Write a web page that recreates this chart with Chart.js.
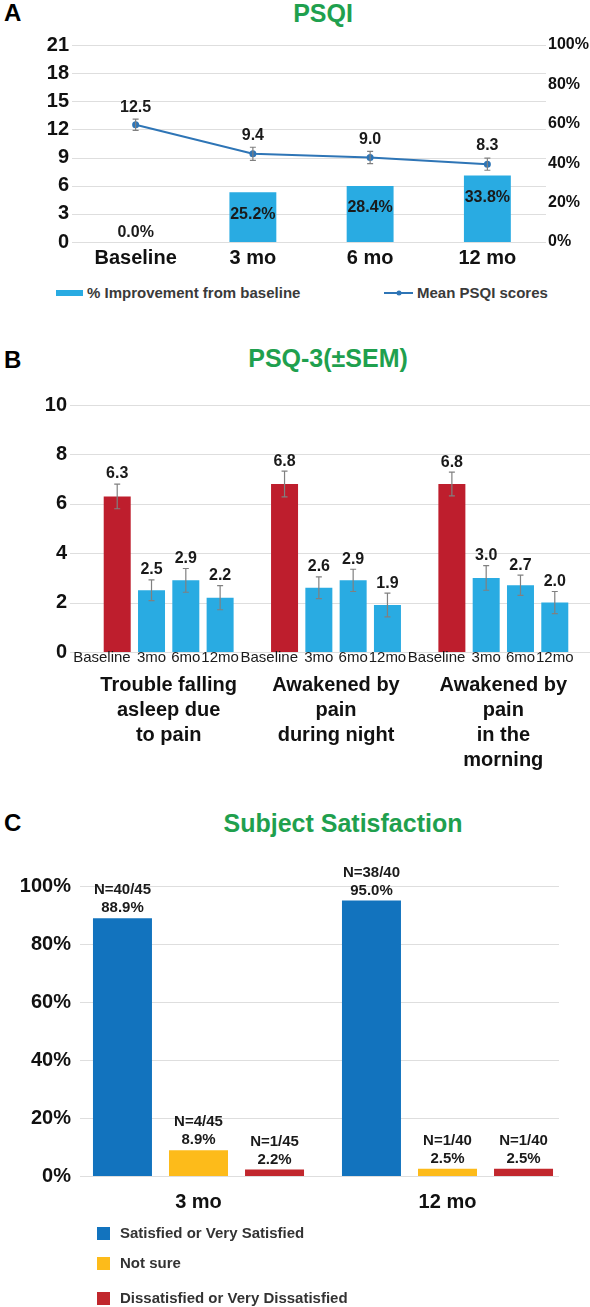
<!DOCTYPE html>
<html>
<head>
<meta charset="utf-8">
<script src="https://cdn.jsdelivr.net/npm/chart.js@4.4.1/dist/chart.umd.min.js"></script>
<style>
  body { margin: 0; background: #fff; font-family: 'Liberation Sans', Arial, sans-serif; }
  #page { position: relative; width: 590px; height: 1307px; overflow: hidden; }
  .letter { position: absolute; left: 4px; font-size: 24px; font-weight: bold; line-height: 26px; color: #000; }
  .title { position: absolute; transform: translateX(-50%); font-size: 25px; font-weight: bold; line-height: 26px; color: #1fa04e; white-space: nowrap; }
  canvas { position: absolute; left: 0; }
  .leg { position: absolute; display: flex; align-items: center; gap: 4px; font-size: 15px; font-weight: bold; color: #3a3a3a; line-height: 18px; white-space: nowrap; }
  .sw { display: inline-block; }
</style>
</head>
<body>
<div id="page">
  <div class="letter" style="top:0">A</div>
  <div class="title" style="left:323px;top:0">PSQI</div>
  <canvas id="psqi" width="590" height="255" style="top:25px"></canvas>
  <div class="leg" style="left:56px;top:284px"><span class="sw" style="width:27px;height:6px;background:#29abe2"></span>% Improvement from baseline</div>
  <div class="leg" style="left:384px;top:284px"><svg width="29" height="8"><line x1="0" y1="4" x2="29" y2="4" stroke="#2e75b6" stroke-width="2"/><circle cx="15" cy="4" r="2.5" fill="#2e75b6"/></svg>Mean PSQI scores</div>

  <div class="letter" style="top:347px">B</div>
  <div class="title" style="left:328px;top:345px">PSQ-3(±SEM)</div>
  <canvas id="psq3" width="590" height="415" style="top:375px"></canvas>

  <div class="letter" style="top:810px">C</div>
  <div class="title" style="left:343px;top:810px">Subject Satisfaction</div>
  <canvas id="sat" width="590" height="365" style="top:860px"></canvas>
  <div class="leg" style="left:97px;top:1224px;color:#333;gap:10px"><span class="sw" style="width:13px;height:13px;background:#1273be"></span>Satisfied or Very Satisfied</div>
  <div class="leg" style="left:97px;top:1254px;color:#333;gap:10px"><span class="sw" style="width:13px;height:13px;background:#fdbb1a"></span>Not sure</div>
  <div class="leg" style="left:97px;top:1289px;color:#333;gap:10px"><span class="sw" style="width:13px;height:13px;background:#c1272d"></span>Dissatisfied or Very Dissatisfied</div>
</div>
<script>
// ---------- data ----------
const psqiLabels = ["Baseline", "3 mo", "6 mo", "12 mo"];
const psqiScores = [12.5, 9.4, 9.0, 8.3];
const psqiSem = [0.6, 0.7, 0.65, 0.65];
const psqiImprovement = [0.0, 25.2, 28.4, 33.8];

const psqGroups = [
  ["Trouble falling", "asleep due", "to pain"],
  ["Awakened by", "pain", "during night"],
  ["Awakened by", "pain", "in the", "morning"],
];
const psqTimepoints = ["Baseline", "3mo", "6mo", "12mo"];
const psqBaseline = [6.3, 6.8, 6.8];
const psq3mo = [2.5, 2.6, 3.0];
const psq6mo = [2.9, 2.9, 2.7];
const psq12mo = [2.2, 1.9, 2.0];
const psqBaselineSem = [0.5, 0.52, 0.48];
const psq3moSem = [0.42, 0.44, 0.5];
const psq6moSem = [0.48, 0.45, 0.41];
const psq12moSem = [0.49, 0.48, 0.45];

const satLabels = ["3 mo", "12 mo"];
const satSatisfied = [88.9, 95.0];
const satNotSure = [8.9, 2.5];
const satDissatisfied = [2.2, 2.5];
const satSatisfiedN = ["N=40/45", "N=38/40"];
const satNotSureN = ["N=4/45", "N=1/40"];
const satDissatisfiedN = ["N=1/45", "N=1/40"];

const FONT = "'Liberation Sans', Arial, sans-serif";
Chart.defaults.font.family = FONT;
Chart.defaults.color = "#111";
Chart.defaults.animation = false;

/*-----plugins-----*/
// horizontal grid lines that run wider than the bars
const wideGrid = {
  id: "wideGrid",
  beforeDatasetsDraw(chart, args, opts) {
    const scale = chart.scales.y;
    const ctx = chart.ctx;
    ctx.save();
    ctx.strokeStyle = "#dedede";
    ctx.lineWidth = 1;
    scale.ticks.forEach((t) => {
      const y = Math.round(scale.getPixelForValue(t.value)) + 0.5;
      ctx.beginPath();
      ctx.moveTo(opts.from, y);
      ctx.lineTo(opts.to, y);
      ctx.stroke();
    });
    ctx.restore();
  },
};

const errorBars = {
  id: "errorBars",
  afterDatasetsDraw(chart) {
    const ctx = chart.ctx;
    ctx.save();
    ctx.strokeStyle = "#808080";
    ctx.lineWidth = 1.2;
    chart.data.datasets.forEach((ds, i) => {
      if (!ds.sem) return;
      const meta = chart.getDatasetMeta(i);
      const scale = chart.scales[meta.yAxisID];
      meta.data.forEach((el, j) => {
        const hi = scale.getPixelForValue(ds.data[j] + ds.sem[j]);
        const lo = scale.getPixelForValue(ds.data[j] - ds.sem[j]);
        ctx.beginPath();
        ctx.moveTo(el.x, hi);
        ctx.lineTo(el.x, lo);
        ctx.moveTo(el.x - 3, hi);
        ctx.lineTo(el.x + 3, hi);
        ctx.moveTo(el.x - 3, lo);
        ctx.lineTo(el.x + 3, lo);
        ctx.stroke();
      });
    });
    ctx.restore();
  },
};

const psqiTags = {
  id: "psqiTags",
  afterDatasetsDraw(chart) {
    const ctx = chart.ctx;
    ctx.save();
    ctx.fillStyle = "#1a1a1a";
    ctx.textAlign = "center";
    ctx.textBaseline = "middle";
    ctx.font = "bold 16px " + FONT;
    chart.getDatasetMeta(1).data.forEach((el, j) => {
      const y = el.base - el.y > 30 ? el.y + 22 : el.y - 9;
      ctx.fillText(psqiImprovement[j].toFixed(1) + "%", el.x, y);
    });
    const sy = chart.scales.y;
    chart.getDatasetMeta(0).data.forEach((pt, j) => {
      const top = sy.getPixelForValue(psqiScores[j] + psqiSem[j]);
      ctx.fillText(psqiScores[j].toFixed(1), pt.x, top - 12);
    });
    ctx.restore();
  },
};

const psqTags = {
  id: "psqTags",
  afterDatasetsDraw(chart) {
    const ctx = chart.ctx;
    const sy = chart.scales.y;
    ctx.save();
    ctx.fillStyle = "#1a1a1a";
    ctx.textBaseline = "middle";
    chart.data.datasets.forEach((ds, i) => {
      const meta = chart.getDatasetMeta(i);
      meta.data.forEach((el, j) => {
        const top = sy.getPixelForValue(ds.data[j] + ds.sem[j]);
        ctx.font = "bold 16px " + FONT;
        ctx.textAlign = "center";
        ctx.fillText(ds.data[j].toFixed(1), el.x, top - 10);
        // time point under each bar
        ctx.font = "15px " + FONT;
        if (i === 0) {
          ctx.textAlign = "right";
          ctx.fillText(ds.label, el.x + el.width / 2, chart.chartArea.bottom + 6);
        } else {
          ctx.fillText(ds.label, el.x, chart.chartArea.bottom + 6);
        }
      });
    });
    ctx.restore();
  },
};

const satTags = {
  id: "satTags",
  afterDatasetsDraw(chart) {
    const ctx = chart.ctx;
    ctx.save();
    ctx.fillStyle = "#1a1a1a";
    ctx.textAlign = "center";
    ctx.textBaseline = "middle";
    ctx.font = "bold 15px " + FONT;
    chart.data.datasets.forEach((ds, i) => {
      chart.getDatasetMeta(i).data.forEach((el, j) => {
        ctx.fillText(ds.counts[j], el.x, el.y - 28);
        ctx.fillText(ds.data[j].toFixed(1) + "%", el.x, el.y - 10);
      });
    });
    ctx.restore();
  },
};

function fixWidth(w) {
  return (scale) => { scale.width = w; };
}
function fixHeight(h) {
  return (scale) => { scale.height = h; };
}
const noGrid = { display: false, drawTicks: false };

/*-----A: PSQI-----*/
new Chart(document.getElementById("psqi"), {
  type: "bar",
  data: {
    labels: psqiLabels,
    datasets: [
      {
        type: "line",
        label: "Mean PSQI scores",
        data: psqiScores,
        sem: psqiSem,
        yAxisID: "y",
        borderColor: "#2e75b6",
        backgroundColor: "#2e75b6",
        borderWidth: 2,
        pointRadius: 2.5,
        order: 0,
      },
      {
        label: "% Improvement from baseline",
        data: psqiImprovement,
        yAxisID: "y1",
        backgroundColor: "#29abe2",
        categoryPercentage: 1,
        barPercentage: 0.4,
        order: 1,
      },
    ],
  },
  options: {
    responsive: false,
    layout: { padding: { top: 13, right: 0, bottom: 0, left: 0 } },
    plugins: {
      legend: { display: false },
      tooltip: { enabled: false },
      wideGrid: { from: 72, to: 546 },
    },
    scales: {
      x: {
        grid: noGrid,
        border: { display: false },
        ticks: { font: { size: 20, weight: "bold" }, padding: 4, maxRotation: 0 },
        afterFit: fixHeight(38),
      },
      y: {
        position: "left",
        min: 0,
        max: 21,
        grid: noGrid,
        border: { display: false },
        ticks: { stepSize: 3, font: { size: 20, weight: "bold" }, padding: 8 },
        afterFit: fixWidth(77),
      },
      y1: {
        position: "right",
        min: 0,
        max: 100,
        grid: noGrid,
        border: { display: false },
        ticks: { stepSize: 20, font: { size: 16, weight: "bold" }, padding: 2, callback: (v) => v + "%" },
        afterFit: fixWidth(44),
      },
    },
  },
  plugins: [wideGrid, errorBars, psqiTags],
});

/*-----B: PSQ-3-----*/
const psqColors = ["#be1e2d", "#29abe2", "#29abe2", "#29abe2"];
const psqValues = [psqBaseline, psq3mo, psq6mo, psq12mo];
const psqSems = [psqBaselineSem, psq3moSem, psq6moSem, psq12moSem];

new Chart(document.getElementById("psq3"), {
  type: "bar",
  data: {
    labels: psqGroups,
    datasets: psqTimepoints.map((tp, i) => ({
      label: tp,
      data: psqValues[i],
      sem: psqSems[i],
      backgroundColor: psqColors[i],
      categoryPercentage: 0.82,
      barPercentage: 0.787,
    })),
  },
  options: {
    responsive: false,
    layout: { padding: { top: 17, right: 3, bottom: 0, left: 0 } },
    plugins: {
      legend: { display: false },
      tooltip: { enabled: false },
      wideGrid: { from: 70, to: 590 },
    },
    scales: {
      x: {
        grid: noGrid,
        border: { display: false },
        ticks: {
          font: { size: 20, weight: "bold", lineHeight: 1.25 },
          padding: 21,
          maxRotation: 0,
          autoSkip: false,
        },
        afterFit: fixHeight(138),
      },
      y: {
        min: 0,
        max: 10,
        grid: noGrid,
        border: { display: false },
        ticks: { stepSize: 2, font: { size: 20, weight: "bold" }, padding: 18 },
        afterFit: fixWidth(85),
      },
    },
  },
  plugins: [wideGrid, errorBars, psqTags],
});

/*-----C: Subject satisfaction-----*/
new Chart(document.getElementById("sat"), {
  type: "bar",
  data: {
    labels: satLabels,
    datasets: [
      { label: "Satisfied or Very Satisfied", data: satSatisfied, counts: satSatisfiedN, backgroundColor: "#1273be" },
      { label: "Not sure", data: satNotSure, counts: satNotSureN, backgroundColor: "#fdbb1a" },
      { label: "Dissatisfied or Very Dissatisfied", data: satDissatisfied, counts: satDissatisfiedN, backgroundColor: "#c1272d" },
    ],
  },
  options: {
    responsive: false,
    datasets: { bar: { categoryPercentage: 0.916, barPercentage: 0.776 } },
    layout: { padding: { top: 26, right: 18, bottom: 0, left: 0 } },
    plugins: {
      legend: { display: false },
      tooltip: { enabled: false },
      wideGrid: { from: 80, to: 559 },
    },
    scales: {
      x: {
        grid: noGrid,
        border: { display: false },
        ticks: { font: { size: 20, weight: "bold" }, padding: 14, maxRotation: 0 },
        afterFit: fixHeight(49),
      },
      y: {
        min: 0,
        max: 100,
        grid: noGrid,
        border: { display: false },
        ticks: { stepSize: 20, font: { size: 20, weight: "bold" }, padding: 3, callback: (v) => v + "%" },
        afterFit: fixWidth(74),
      },
    },
  },
  plugins: [wideGrid, satTags],
});
</script>
</body>
</html>
